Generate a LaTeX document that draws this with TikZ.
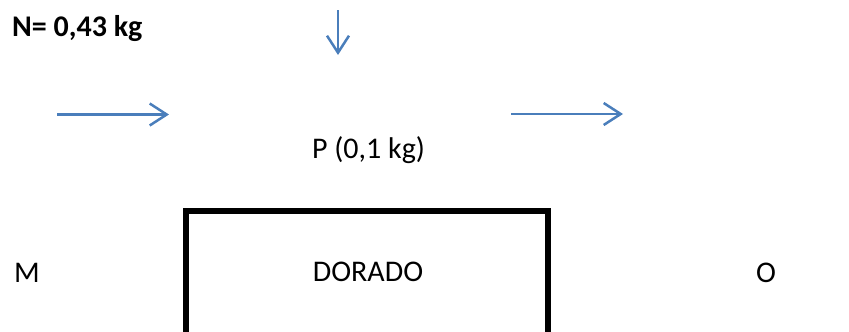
\documentclass[tikz,border=0pt]{standalone}
\usepackage{fontspec}
\setmainfont{Carlito}
\usetikzlibrary{arrows.meta}
\definecolor{arrowblue}{RGB}{74,126,187}
\tikzset{
  lbl/.style={inner sep=0pt, font=\fontsize{30}{34}\selectfont},
  flow/.style={draw=arrowblue, line width=2.5pt,
    -{Straight Barb[length=17pt,width=22pt,line width=2.5pt]}},
  frame/.style={draw=black, line width=6pt}
}
\begin{document}
\begin{tikzpicture}[x=1pt,y=-1pt]
\useasboundingbox (0,0) rectangle (849,332);
\clip (0,0) rectangle (849,332);
% texts
\node[lbl, anchor=base west, font=\fontsize{30}{34}\selectfont\bfseries] (n) at (12,36) {N= 0,43 kg};
\node[lbl, anchor=base] (p) at (368.5,158.5) {P (0,1 kg)};
\node[lbl, anchor=base] (dorado) at (368,281.7) {DORADO};
\node[lbl, anchor=base west] (m) at (14,282) {M};
\node[lbl, anchor=base] (o) at (766,282) {O};
% arrows
\coordinate (d1) at (338,10);
\coordinate (d2) at (338,55);
\coordinate (l1) at (57,114.5);
\coordinate (l2) at (169,114.5);
\coordinate (r1) at (511,114);
\coordinate (r2) at (623,114);
\draw[flow] (d1) -- (d2);
\draw[flow] (l1) -- (l2);
\draw[flow] (r1) -- (r2);
% box
\coordinate (bl) at (185.5,340);
\coordinate (tl) at (185.5,210.5);
\coordinate (tr) at (548,210.5);
\coordinate (br) at (548,340);
\draw[frame, line join=miter] (bl) -- (tl) -- (tr) -- (br);
\end{tikzpicture}
\end{document}
